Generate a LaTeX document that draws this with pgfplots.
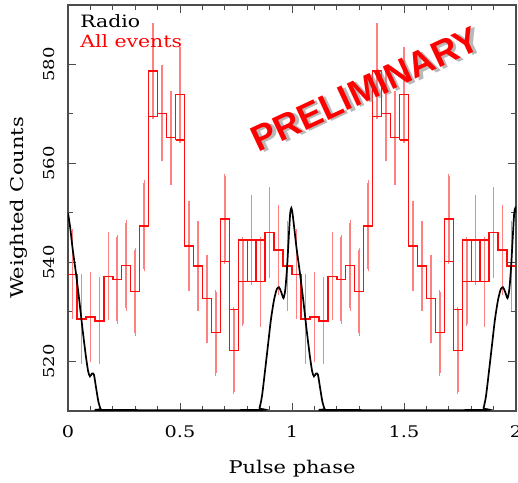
\documentclass[border=0pt]{standalone}
\usepackage{fontspec}
\setmainfont{DejaVu Serif}[FakeStretch=1.2]
\newfontfamily\stampfont{Liberation Sans}
\usepackage{graphicx}
\usepackage{pgfplots}
\pgfplotsset{compat=1.18}
\usepackage{pgfplotstable}

\definecolor{stepred}{rgb}{1,0.05,0.05}
\definecolor{errred}{rgb}{1,0.5,0.5}
\definecolor{framegray}{rgb}{0.3,0.3,0.3}

% red histogram: left edge, centre, value, error
\pgfplotstableread{
xl xc y e
0.00 0.02 537.6 8.6
0.04 0.06 528.6 8.6
0.08 0.10 529.0 8.5
0.12 0.14 528.2 8.3
0.16 0.18 537.2 8.4
0.20 0.22 536.6 8.5
0.24 0.26 539.4 8.6
0.28 0.30 534.1 8.4
0.32 0.34 547.4 8.7
0.36 0.38 578.7 9.2
0.40 0.42 570.1 9.2
0.44 0.46 565.2 9.0
0.48 0.50 573.9 9.2
0.52 0.54 543.3 8.6
0.56 0.58 539.3 8.6
0.60 0.62 532.7 8.4
0.64 0.66 525.8 8.2
0.68 0.70 548.8 8.6
0.72 0.74 522.2 8.3
0.76 0.78 536.1 8.5
0.80 0.82 544.5 8.6
0.84 0.86 536.1 8.6
0.88 0.90 546.0 8.7
0.92 0.94 542.5 8.6
0.96 0.98 539.3 8.6
1.00 1.02 537.6 8.6
1.04 1.06 528.6 8.6
1.08 1.10 529.0 8.5
1.12 1.14 528.2 8.3
1.16 1.18 537.2 8.4
1.20 1.22 536.6 8.5
1.24 1.26 539.4 8.6
1.28 1.30 534.1 8.4
1.32 1.34 547.4 8.7
1.36 1.38 578.7 9.2
1.40 1.42 570.1 9.2
1.44 1.46 565.2 9.0
1.48 1.50 573.9 9.2
1.52 1.54 543.3 8.6
1.56 1.58 539.3 8.6
1.60 1.62 532.7 8.4
1.64 1.66 525.8 8.2
1.68 1.70 548.8 8.6
1.72 1.74 522.2 8.3
1.76 1.78 536.1 8.5
1.80 1.82 544.5 8.6
1.84 1.86 536.1 8.6
1.88 1.90 546.0 8.7
1.92 1.94 542.5 8.6
1.96 1.98 539.3 8.6
2.00 nan  539.3 0
}\hist

% outlined boxes inside some bins
\pgfplotstableread{
x y
0.36 569.5
0.36 578.7
0.40 578.7
0.40 569.5
0.36 569.5
nan nan
0.48 564.7
0.48 573.9
0.52 573.9
0.52 564.7
0.48 564.7
nan nan
0.68 540.2
0.68 548.8
0.72 548.8
0.72 540.2
0.68 540.2
nan nan
0.72 522.2
0.72 530.5
0.76 530.5
0.76 522.2
0.72 522.2
nan nan
0.76 536.1
0.76 544.5
0.88 544.5
0.88 536.1
0.76 536.1
nan nan
1.36 569.5
1.36 578.7
1.40 578.7
1.40 569.5
1.36 569.5
nan nan
1.48 564.7
1.48 573.9
1.52 573.9
1.52 564.7
1.48 564.7
nan nan
1.68 540.2
1.68 548.8
1.72 548.8
1.72 540.2
1.68 540.2
nan nan
1.72 522.2
1.72 530.5
1.76 530.5
1.76 522.2
1.72 522.2
nan nan
1.76 536.1
1.76 544.5
1.88 544.5
1.88 536.1
1.76 536.1
}\boxes

% radio profile
\pgfplotstableread{
x y
0.000 550.0
0.010 547.0
0.020 543.0
0.035 538.0
0.050 532.5
0.065 526.5
0.080 521.0
0.090 518.0
0.098 517.0
0.108 517.6
0.116 517.3
0.126 514.5
0.136 511.8
0.146 510.4
0.156 510.2
0.845 510.2
0.855 510.6
0.866 513.0
0.878 517.5
0.892 523.0
0.906 528.5
0.920 532.5
0.932 534.6
0.942 535.0
0.952 534.0
0.962 532.8
0.970 534.5
0.978 539.0
0.986 545.5
0.992 550.0
0.997 551.0
1.002 550.0
1.010 547.0
1.020 543.0
1.035 538.0
1.050 532.5
1.065 526.5
1.080 521.0
1.090 518.0
1.098 517.0
1.108 517.6
1.116 517.3
1.126 514.5
1.136 511.8
1.146 510.4
1.156 510.2
1.845 510.2
1.855 510.6
1.866 513.0
1.878 517.5
1.892 523.0
1.906 528.5
1.920 532.5
1.932 534.6
1.942 535.0
1.952 534.0
1.962 532.8
1.970 534.5
1.978 539.0
1.986 545.5
1.992 550.0
1.997 551.0
2.002 550.0
}\radio

\begin{document}
\begin{tikzpicture}
\begin{axis}[
  name=ax,
  scale only axis,
  width=448pt, height=406pt,
  xmin=0, xmax=2, ymin=510, ymax=592,
  xtick={0,0.5,1,1.5,2},
  xticklabels={0,0.5,1,1.5,2},
  minor x tick num=4,
  ytick={520,540,560,580},
  yticklabels={\rotatebox{90}{520},\rotatebox{90}{540},\rotatebox{90}{560},\rotatebox{90}{580}},
  minor y tick num=1,
  tick align=inside,
  major tick length=8pt,
  minor tick length=5pt,
  axis line style={draw=framegray, line width=1.2pt},
  every tick/.style={draw=framegray, line width=1pt},
  xticklabel style={font=\fontsize{16}{19}\selectfont, anchor=center, yshift=-21pt},
  yticklabel style={font=\fontsize{15}{18}\selectfont, anchor=east, inner sep=0pt, xshift=-13pt},
  xlabel={Pulse phase},
  ylabel={Weighted Counts},
  xlabel style={font=\fontsize{17.5}{21}\selectfont, at={(axis description cs:0.5,0)}, anchor=center, yshift=-58pt},
  ylabel style={font=\fontsize{17.5}{21}\selectfont, at={(axis description cs:0,0.5)}, anchor=center, yshift=49pt},
  clip mode=individual,
]
\addplot[draw=none, mark=none, forget plot, unbounded coords=discard,
  error bars/.cd, y dir=both, y explicit,
  error bar style={draw=errred, line width=1.6pt},
  error mark options={draw=errred, line width=1.3pt, mark size=2.5pt}]
  table[x=xc, y=y, y error=e] {\hist};
\addplot[draw=stepred, line width=1.4pt, mark=none, const plot mark left] table[x=xl, y=y] {\hist};
\addplot[draw=stepred, line width=1.4pt, mark=none, unbounded coords=jump] table {\boxes};
\addplot[draw=black, line width=1.7pt, mark=none, smooth, tension=0.4] table {\radio};

\node[anchor=west, inner sep=0pt, font=\fontsize{17}{20}\selectfont] at (axis description cs:0.027,0.959) {Radio};
\node[anchor=west, inner sep=0pt, text=red, font=\fontsize{17}{20}\selectfont] at (axis description cs:0.027,0.911) {All events};

\node[rotate=25, text=black!50, opacity=0.55, xshift=2.5pt, yshift=-2.5pt, font=\stampfont\bfseries\fontsize{36}{40}\selectfont] at (axis cs:1.328,575.0) {PRELIMINARY};
\node[rotate=25, text=red, font=\stampfont\bfseries\fontsize{36}{40}\selectfont] at (axis cs:1.328,575.0) {PRELIMINARY};
\end{axis}
\pgfresetboundingbox
\path[use as bounding box] ([xshift=-68pt,yshift=-71pt]ax.south west) rectangle ([xshift=2pt,yshift=5pt]ax.north east);
\end{tikzpicture}
\end{document}
